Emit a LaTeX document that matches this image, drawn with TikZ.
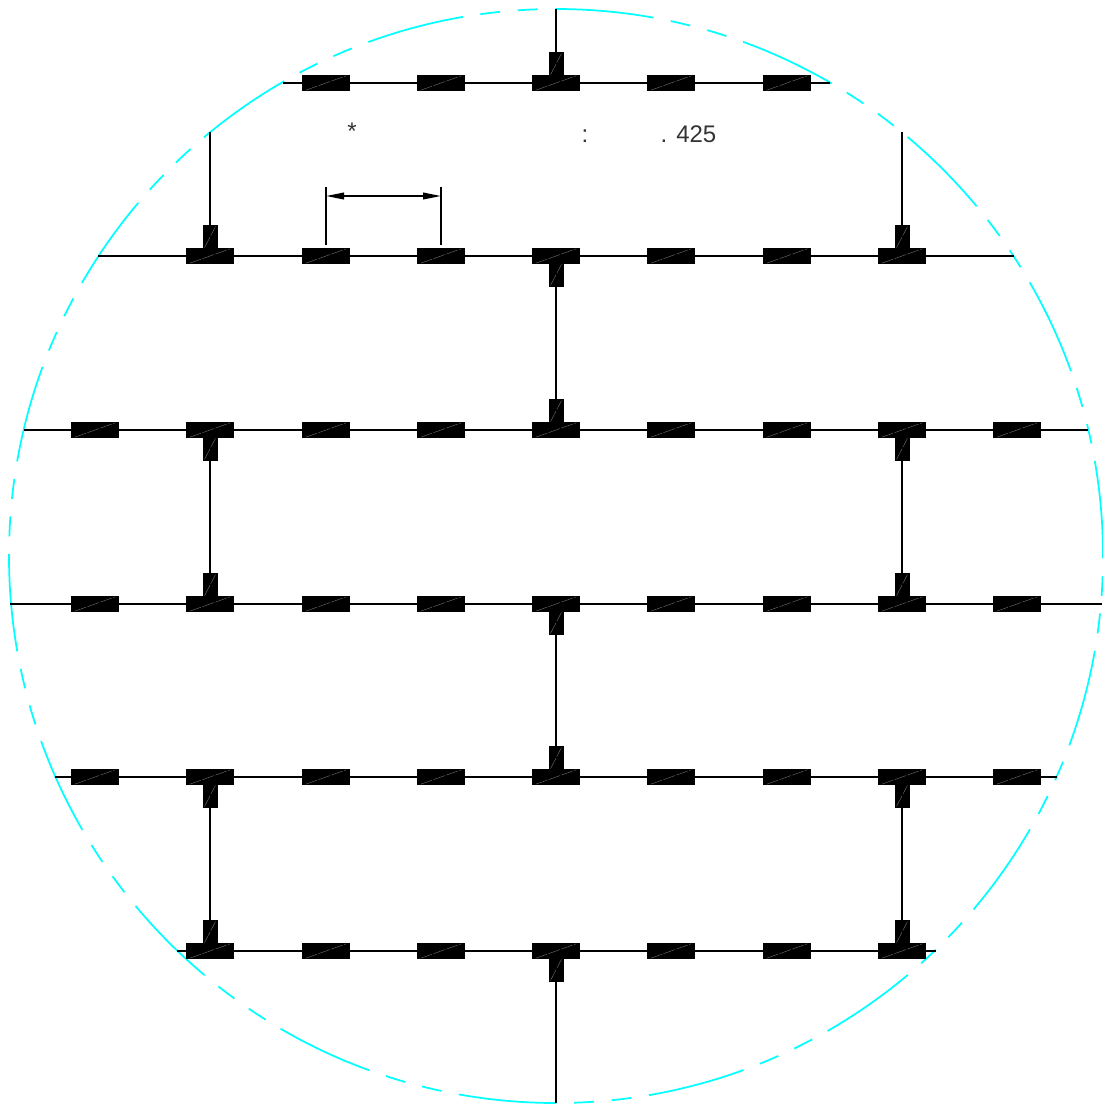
\documentclass[tikz,border=0pt]{standalone}
\usepackage{fontspec}
\setmainfont{Liberation Sans}
\usepackage{tikz}
\usetikzlibrary{arrows.meta, positioning}
\definecolor{RimCyan}{RGB}{0,255,255}

\begin{document}
\begin{tikzpicture}
  [
    x=0.75pt, y=-0.75pt,
    Pad/.style={rectangle, fill=black, inner sep=0pt, outer sep=0pt, minimum width=35.4pt, minimum height=12pt,
      path picture={\draw[Hatch] ([xshift=2.5pt, yshift=0.6pt]path picture bounding box.south west)
        -- ([xshift=-2.5pt, yshift=-0.6pt]path picture bounding box.north east);}},
    Stem/.style={rectangle, fill=black, inner sep=0pt, outer sep=0pt, minimum width=11.25pt, minimum height=17.5pt,
      path picture={\draw[Hatch] ([xshift=1.5pt, yshift=0.8pt]path picture bounding box.south west)
        -- ([xshift=-1.5pt, yshift=-0.8pt]path picture bounding box.north east);}},
    Hatch/.style={draw=black!55, line width=0.3pt, dash pattern=on 9pt off 1.2pt},
    Wire/.style={draw=black, line width=1.4pt},
    Leader/.style={draw=black, line width=1.15pt},
    Rim/.style={draw=RimCyan, line width=1.3pt, dash pattern=on 73.5pt off 13.2pt on 15pt off 13.2pt on 15pt off 13.3pt},
    Note/.style={inner sep=0pt, text=black!80, font=\fontsize{18}{20}\selectfont}
  ]
  \useasboundingbox (0,0) rectangle (1103,1104);
  % Rim
  \draw[Rim] (556,9) arc [start angle=90, end angle=-270, radius=410.25pt];
  % Row ends
  \coordinate (al) at (283,83);   \coordinate (ar) at (830,83);
  \coordinate (bl) at (98,256);   \coordinate (br) at (1014,256);
  \coordinate (cl) at (24,430);   \coordinate (cr) at (1088,430);
  \coordinate (dl) at (10,604);   \coordinate (dr) at (1102,604);
  \coordinate (el) at (55,777);   \coordinate (er) at (1057,777);
  \coordinate (fl) at (177,951);  \coordinate (fr) at (936,951);
  % Free ends of the stem lines
  \coordinate (top) at (556,9);
  \coordinate (topl) at (210,132);
  \coordinate (topr) at (902,132);
  \coordinate (bot) at (556,1103);
  % Rows
  \path [Wire] (al) -- (ar);
  \path [Wire] (bl) -- (br);
  \path [Wire] (cl) -- (cr);
  \path [Wire] (dl) -- (dr);
  \path [Wire] (el) -- (er);
  \path [Wire] (fl) -- (fr);
  % Pads
  \node[Pad] (a3) at(326, 83) {};
  \node[Pad] (a4) at(441, 83) {};
  \node[Pad] (a5) at(556, 83) {};
  \node[Pad] (a6) at(671, 83) {};
  \node[Pad] (a7) at(787, 83) {};
  \node[Pad] (b2) at(210, 256) {};
  \node[Pad] (b3) at(326, 256) {};
  \node[Pad] (b4) at(441, 256) {};
  \node[Pad] (b5) at(556, 256) {};
  \node[Pad] (b6) at(671, 256) {};
  \node[Pad] (b7) at(787, 256) {};
  \node[Pad] (b8) at(902, 256) {};
  \node[Pad] (c1) at(95, 430) {};
  \node[Pad] (c2) at(210, 430) {};
  \node[Pad] (c3) at(326, 430) {};
  \node[Pad] (c4) at(441, 430) {};
  \node[Pad] (c5) at(556, 430) {};
  \node[Pad] (c6) at(671, 430) {};
  \node[Pad] (c7) at(787, 430) {};
  \node[Pad] (c8) at(902, 430) {};
  \node[Pad] (c9) at(1017, 430) {};
  \node[Pad] (d1) at(95, 604) {};
  \node[Pad] (d2) at(210, 604) {};
  \node[Pad] (d3) at(326, 604) {};
  \node[Pad] (d4) at(441, 604) {};
  \node[Pad] (d5) at(556, 604) {};
  \node[Pad] (d6) at(671, 604) {};
  \node[Pad] (d7) at(787, 604) {};
  \node[Pad] (d8) at(902, 604) {};
  \node[Pad] (d9) at(1017, 604) {};
  \node[Pad] (e1) at(95, 777) {};
  \node[Pad] (e2) at(210, 777) {};
  \node[Pad] (e3) at(326, 777) {};
  \node[Pad] (e4) at(441, 777) {};
  \node[Pad] (e5) at(556, 777) {};
  \node[Pad] (e6) at(671, 777) {};
  \node[Pad] (e7) at(787, 777) {};
  \node[Pad] (e8) at(902, 777) {};
  \node[Pad] (e9) at(1017, 777) {};
  \node[Pad] (f2) at(210, 951) {};
  \node[Pad] (f3) at(326, 951) {};
  \node[Pad] (f4) at(441, 951) {};
  \node[Pad] (f5) at(556, 951) {};
  \node[Pad] (f6) at(671, 951) {};
  \node[Pad] (f7) at(787, 951) {};
  \node[Pad] (f8) at(902, 951) {};
  % Stems
  \node[Stem, above=-0.6pt of a5] (sa5) {};
  \node[Stem, above=-0.6pt of b2] (sb2) {};
  \node[Stem, below=-0.6pt of b5] (sb5) {};
  \node[Stem, above=-0.6pt of b8] (sb8) {};
  \node[Stem, below=-0.6pt of c2] (sc2) {};
  \node[Stem, above=-0.6pt of c5] (sc5) {};
  \node[Stem, below=-0.6pt of c8] (sc8) {};
  \node[Stem, above=-0.6pt of d2] (sd2) {};
  \node[Stem, below=-0.6pt of d5] (sd5) {};
  \node[Stem, above=-0.6pt of d8] (sd8) {};
  \node[Stem, below=-0.6pt of e2] (se2) {};
  \node[Stem, above=-0.6pt of e5] (se5) {};
  \node[Stem, below=-0.6pt of e8] (se8) {};
  \node[Stem, above=-0.6pt of f2] (sf2) {};
  \node[Stem, below=-0.6pt of f5] (sf5) {};
  \node[Stem, above=-0.6pt of f8] (sf8) {};
  % Lines
  \path [Leader] (top) -- (sa5.north);
  \path [Leader] (topl) -- (sb2.north);
  \path [Leader] (topr) -- (sb8.north);
  \path [Leader] (sb5.south) -- (sc5.north);
  \path [Leader] (sc2.south) -- (sd2.north);
  \path [Leader] (sc8.south) -- (sd8.north);
  \path [Leader] (sd5.south) -- (se5.north);
  \path [Leader] (se2.south) -- (sf2.north);
  \path [Leader] (se8.south) -- (sf8.north);
  \path [Leader] (sf5.south) -- (bot);
  % Spacing mark
  \coordinate (m1) at (326,187);  \coordinate (n1) at (326,245);
  \coordinate (m2) at (441,187);  \coordinate (n2) at (441,245);
  \coordinate (k1) at (326,196);  \coordinate (k2) at (441,196);
  \path [Leader] (m1) -- (n1);
  \path [Leader] (m2) -- (n2);
  \path [Leader, {Triangle[length=13.5pt, width=5pt]}-{Triangle[length=13.5pt, width=5pt]}] (k1) -- (k2);
  % Text
  \node[Note] (star) at(352, 131) {*};
  \node[Note] (colon) at(585, 136) {:};
  \node[Note] (value) at(688.5, 134.5) {. 425};
\end{tikzpicture}
\end{document}
